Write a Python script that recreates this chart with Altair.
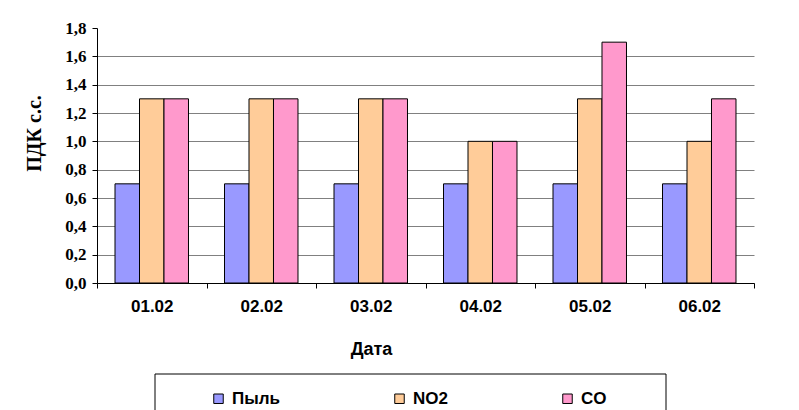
import altair as alt
import pandas as pd

dates = ["01.02", "02.02", "03.02", "04.02", "05.02", "06.02"]
series = ["Пыль", "NO2", "CO"]
dust = [0.7, 0.7, 0.7, 0.7, 0.7, 0.7]
no2 = [1.3, 1.3, 1.3, 1.0, 1.3, 1.0]
co = [1.3, 1.3, 1.3, 1.0, 1.7, 1.3]
colors = ["#9999FF", "#FFCC99", "#FF99CC"]
y_ticks = [0.0, 0.2, 0.4, 0.6, 0.8, 1.0, 1.2, 1.4, 1.6, 1.8]

rows = []
for name, vals in zip(series, [dust, no2, co]):
    for d, v in zip(dates, vals):
        rows.append({"date": d, "series": name, "value": v})
df = pd.DataFrame(rows)

bars = alt.Chart(df).mark_bar(stroke="black", strokeWidth=1).encode(
    x=alt.X(
        "date:N",
        sort=dates,
        scale=alt.Scale(paddingInner=0, paddingOuter=0),
        axis=alt.Axis(
            title="Дата",
            labelAngle=0,
            tickBand="extent",
            grid=False,
            domainColor="black",
            tickColor="black",
            tickSize=5,
            labelFont="Liberation Sans",
            labelFontSize=17,
            labelFontWeight="bold",
            labelColor="black",
            labelPadding=10,
            titleFont="Liberation Sans",
            titleFontSize=18,
            titleFontWeight="bold",
            titleColor="black",
            titleX=274,
            titleY=66,
            titleAlign="center",
            titleBaseline="middle",
        ),
    ),
    xOffset=alt.XOffset(
        "series:N", sort=series, scale=alt.Scale(paddingInner=0, paddingOuter=0.735)
    ),
    y=alt.Y(
        "value:Q",
        scale=alt.Scale(domain=[0, 1.8], nice=False),
        axis=alt.Axis(
            title="ПДК с.с.",
            values=y_ticks,
            labelExpr="replace(format(datum.value, '.1f'), '.', ',')",
            domainColor="black",
            tickColor="black",
            tickSize=5,
            labelFont="Liberation Serif",
            labelFontSize=17,
            labelFontWeight="bold",
            labelColor="black",
            labelPadding=6,
            gridColor="#808080",
            gridOpacity={"condition": {"test": "datum.value >= 1.79", "value": 0}, "value": 1},
            titleFont="Liberation Serif",
            titleFontSize=20,
            titleFontWeight="bold",
            titleColor="black",
            titleAngle=270,
            titleAlign="center",
            titleBaseline="alphabetic",
            titleX=-57,
            titleY=105,
        ),
    ),
    color=alt.Color(
        "series:N",
        sort=series,
        scale=alt.Scale(domain=series, range=colors),
        legend=alt.Legend(
            title=None,
            orient="none",
            legendX=113,
            legendY=362,
            direction="horizontal",
            columnPadding=111,
            symbolType="square",
            symbolSize=90,
            symbolStrokeColor="black",
            symbolStrokeWidth=1,
            symbolOpacity=1,
            labelOffset=5,
            labelFont="Liberation Sans",
            labelFontSize=17,
            labelFontWeight="bold",
            labelColor="black",
            padding=0,
        ),
    ),
)

# legend frame (decoration)
frame = alt.Chart(pd.DataFrame({"k": [0]})).mark_rect(
    fill=None, stroke="black", strokeWidth=1
).encode(
    x=alt.value(58), x2=alt.value(569), y=alt.value(346), y2=alt.value(430)
)

chart = alt.layer(frame, bars).properties(
    width=657,
    height=255,
    autosize=alt.AutoSizeParams(type="none"),
    padding={"left": 89, "top": 20, "right": 37, "bottom": 127},
).configure_view(stroke=None)

chart.save("out.html", embed_options={"renderer": "svg", "actions": False})
